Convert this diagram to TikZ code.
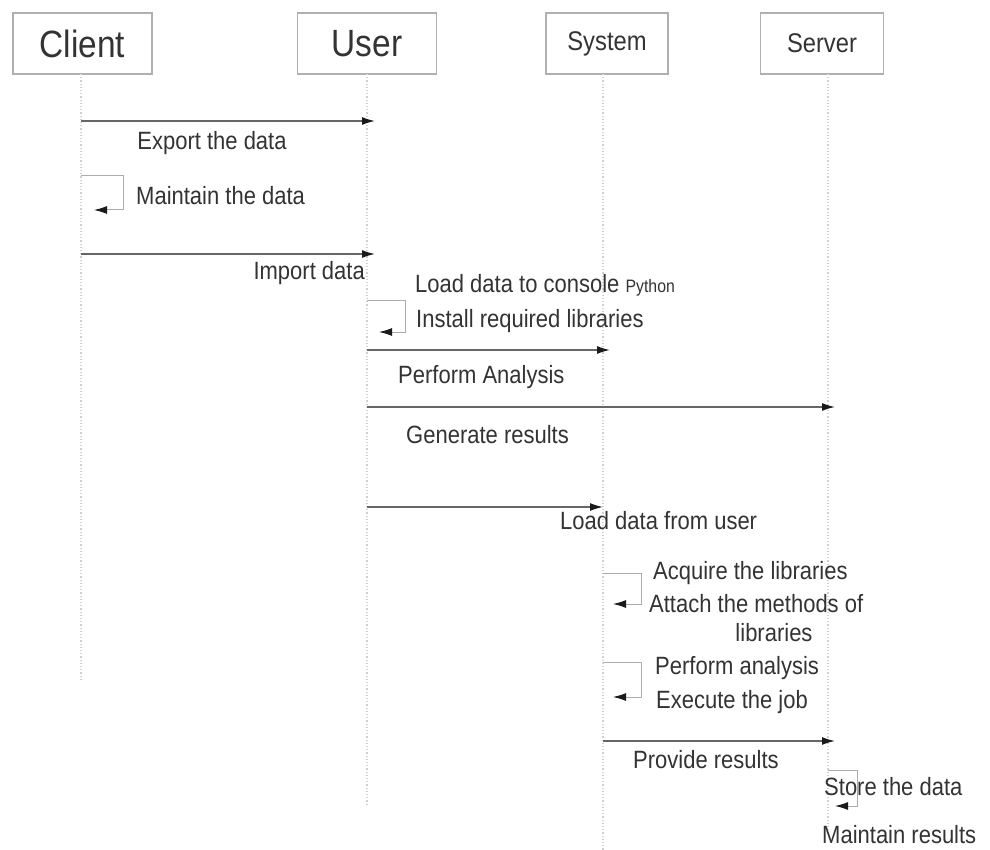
\documentclass[tikz,border=0pt]{standalone}
\usepackage{fontspec}
\setmainfont{Liberation Sans}[FakeStretch=0.88]
\usetikzlibrary{arrows.meta}
\definecolor{txt}{HTML}{333333}
\definecolor{ln}{HTML}{666666}
\definecolor{bx}{HTML}{B0B0B0}
\definecolor{lf}{HTML}{D0D0D0}
\definecolor{hd}{HTML}{1A1A1A}
\begin{document}
\begin{tikzpicture}[x=1pt,y=-1pt,
  actor/.style={draw=bx, line width=1.3pt, minimum height=61pt, inner sep=0pt, text=txt},
  bigname/.style={font=\fontsize{38}{40}\selectfont},
  smallname/.style={font=\fontsize{27}{30}\selectfont},
  life/.style={draw=lf, dotted, line width=1.2pt},
  msg/.style={draw=ln, line width=1.3pt, -{Latex[length=13pt,width=8pt,hd]}},
  selfmsg/.style={draw=gray!65, line width=1pt, -{Latex[length=13pt,width=8pt,hd]}},
  lbl/.style={text=txt, font=\fontsize{25}{28}\selectfont, inner sep=0pt},
]
\useasboundingbox (0,0) rectangle (990,850);

% actors
\node[actor, bigname, minimum width=139pt] (client) at (82.5,43.5) {Client};
\node[actor, bigname, minimum width=139pt] (user) at (367,43.5) {User};
\node[actor, smallname, minimum width=122pt] (system) at (607,43.5) {System};
\node[actor, smallname, minimum width=123pt] (server) at (822,43.5) {Server};

% lifelines
\coordinate (cT) at (81,74);  \coordinate (cB) at (81,682);
\coordinate (uT) at (367,74); \coordinate (uB) at (367,805);
\coordinate (sT) at (603,74); \coordinate (sB) at (603,850);
\coordinate (vT) at (828,74); \coordinate (vB) at (828,835);
\draw[life] (cT) -- (cB);
\draw[life] (uT) -- (uB);
\draw[life] (sT) -- (sB);
\draw[life] (vT) -- (vB);

% 1 Client -> User
\coordinate (m1a) at (81,121); \coordinate (m1b) at (375,121);
\draw[msg] (m1a) -- (m1b);
\node[lbl] (t1) at (212,143) {Export the data};

% 2 Client self
\coordinate (m2a) at (81,176); \coordinate (m2b) at (94,210);
\draw[selfmsg] (m2a) -- ++(42,0) |- (m2b);
\node[lbl, anchor=west] (t2) at (136,196) {Maintain the data};

% 3 Client -> User
\coordinate (m3a) at (81,254); \coordinate (m3b) at (375,254);
\draw[msg] (m3a) -- (m3b);
\node[lbl, anchor=east] (t3) at (365,273) {Import data};

% 4 User self
\coordinate (m4a) at (367,300); \coordinate (m4b) at (379,332);
\draw[selfmsg] (m4a) -- ++(38,0) |- (m4b);
\node[lbl, anchor=west] (t4a) at (415,285) {Load data to console {\fontsize{18}{20}\selectfont Python}};
\node[lbl, anchor=west] (t4b) at (416,321) {Install required libraries};

% 5 User -> System
\coordinate (m5a) at (367,350); \coordinate (m5b) at (610,350);
\draw[msg] (m5a) -- (m5b);
\node[lbl, anchor=west] (t5) at (398,377) {Perform Analysis};

% 6 User -> Server
\coordinate (m6a) at (367,407); \coordinate (m6b) at (835,407);
\draw[msg] (m6a) -- (m6b);
\node[lbl, anchor=west] (t6) at (406,435) {Generate results};

% 7 User -> System
\coordinate (m7a) at (367,507); \coordinate (m7b) at (603,507);
\draw[msg] (m7a) -- (m7b);
\node[lbl, anchor=west] (t7) at (560,521) {Load data from user};

% 8 System self
\coordinate (m8a) at (603,573); \coordinate (m8b) at (613,604);
\draw[selfmsg] (m8a) -- ++(38,0) |- (m8b);
\node[lbl, anchor=west] (t8a) at (653,573) {Acquire the libraries};
\node[lbl, anchor=west] (t8b) at (649,604) {Attach the methods of};
\node[lbl] (t8c) at (774,633) {libraries};

% 9 System self
\coordinate (m9a) at (603,662); \coordinate (m9b) at (613,697);
\draw[selfmsg] (m9a) -- ++(38,0) |- (m9b);
\node[lbl, anchor=west] (t9a) at (655,668) {Perform analysis};
\node[lbl, anchor=west] (t9b) at (656,702) {Execute the job};

% 10 System -> Server
\coordinate (m10a) at (603,741); \coordinate (m10b) at (835,741);
\draw[msg] (m10a) -- (m10b);
\node[lbl, anchor=west] (t10) at (633,760) {Provide results};

% 11 Server self
\coordinate (m11a) at (828,770); \coordinate (m11b) at (835,806);
\draw[selfmsg] (m11a) -- ++(29,0) |- (m11b);
\node[lbl, anchor=west] (t11a) at (824,787) {Store the data};
\node[lbl, anchor=west] (t11b) at (822,835) {Maintain results};
\end{tikzpicture}
\end{document}
